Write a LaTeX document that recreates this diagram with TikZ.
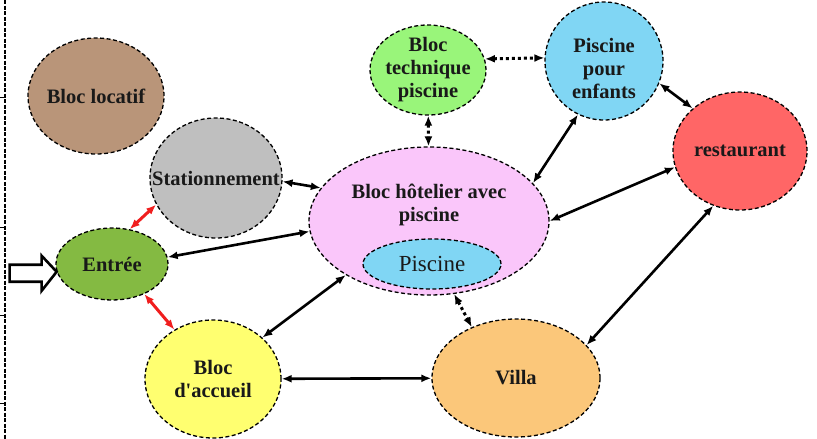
\documentclass[tikz,border=0pt]{standalone}
\usepackage{fontspec}
\setmainfont{Liberation Serif}
\usetikzlibrary{shapes.geometric,arrows.meta}

\definecolor{cLocatif}{RGB}{185,149,121}
\definecolor{cStation}{RGB}{191,191,191}
\definecolor{cEntree}{RGB}{132,186,66}
\definecolor{cAccueil}{RGB}{255,255,112}
\definecolor{cHotel}{RGB}{250,198,250}
\definecolor{cBleu}{RGB}{128,214,244}
\definecolor{cTech}{RGB}{153,245,122}
\definecolor{cResto}{RGB}{255,102,102}
\definecolor{cVilla}{RGB}{251,199,122}
\definecolor{cRouge}{RGB}{240,30,30}

\tikzset{
  zone/.style={ellipse, draw, line width=1.3pt, dash pattern=on 4pt off 2.5pt, inner sep=0pt},
  txt/.style={font=\fontsize{20.5}{23}\selectfont\bfseries, align=center, text=black!90},
  lien/.style={{Latex[length=10pt,width=8pt]}-{Latex[length=10pt,width=8pt]}, line width=2.6pt},
  lienrouge/.style={lien, draw=cRouge, line width=3pt},
  pointille/.style={lien, line width=3pt, dash pattern=on 3pt off 3pt},
}

\begin{document}
\begin{tikzpicture}[x=1pt, y=-1pt]
   \useasboundingbox (0,0) rectangle (817,439);
   % bord gauche
   \draw[line width=2.4pt, dash pattern=on 4pt off 1.5pt] (5,0) -- (5,439);
   \foreach \y in {97,227,315,403}
      \draw[line width=.6pt] (0,\y) -- (5,\y);

   \node[zone, fill=cLocatif, minimum width=136pt, minimum height=116pt] (locatif) at (96,96) {};
   \node[zone, fill=cStation, minimum width=132pt, minimum height=120pt] (station) at (216,178) {};
   \node[zone, fill=cEntree, minimum width=112pt, minimum height=72pt] (entree) at (112,264) {};
   \node[zone, fill=cAccueil, minimum width=136pt, minimum height=118pt] (accueil) at (213,379) {};
   \node[zone, fill=cHotel, minimum width=240pt, minimum height=148pt] (hotel) at (429,221) {};
   \node[zone, fill=cBleu, minimum width=138pt, minimum height=50pt] (piscine) at (432,264) {};
   \node[zone, fill=cTech, minimum width=116pt, minimum height=90pt] (tech) at (428,70) {};
   \node[zone, fill=cBleu, minimum width=118pt, minimum height=118pt] (enfants) at (604,61) {};
   \node[zone, fill=cResto, minimum width=134pt, minimum height=118pt] (resto) at (740,151) {};
   \node[zone, fill=cVilla, minimum width=168pt, minimum height=118pt] (villa) at (516,378) {};

   \node[txt] (t-locatif) at (locatif) {Bloc locatif};
   \node[txt] (t-station) at (station) {Stationnement};
   \node[txt] (t-entree) at (entree) {Entrée};
   \node[txt] (t-accueil) at (accueil) {Bloc\\d\textquotesingle accueil};
   \node[txt] (t-hotel) at (429,205) {Bloc hôtelier avec\\piscine};
   \node[font=\fontsize{23}{26}\selectfont, text=black!90] (t-piscine) at (piscine) {Piscine};
   \node[txt] (t-tech) at (tech) {Bloc\\technique\\piscine};
   \node[txt] (t-enfants) at (604,68) {Piscine\\pour\\enfants};
   \node[txt] (t-resto) at (resto) {restaurant};
   \node[txt] (t-villa) at (villa) {Villa};

   % liaisons
   \draw[lienrouge] (station.204) -- (entree.63);
   \draw[lienrouge] (entree.-43) -- (accueil.128);
   \draw[lien] (station.-3) -- (hotel.163);
   \draw[lien] (entree.7) -- (hotel.185);
   \draw[lien] (accueil.40) -- (hotel.213);
   \draw[lien] (accueil) -- (villa);
   \draw[lien] (hotel.20) -- (enfants.244);
   \draw[lien] (hotel.0) -- (resto.194);
   \draw[lien] (enfants.-22) -- (resto.138);
   \draw[lien] (villa.25) -- (resto.244);
   \draw[pointille] (tech) -- (hotel);
   \draw[pointille] (tech.11) -- (enfants.177);
   \draw[pointille] (hotel.-71) -- (villa.131);

   % fleche d'entree
   \coordinate (acces) at (entree.188);
   \draw[line width=2.6pt, fill=white, line join=miter] (acces) -- ++(-15,-16) -- ++(0,9) -- ++(-32,0)
      -- ++(0,17) -- ++(32,0) -- ++(0,9) -- cycle;
\end{tikzpicture}
\end{document}
